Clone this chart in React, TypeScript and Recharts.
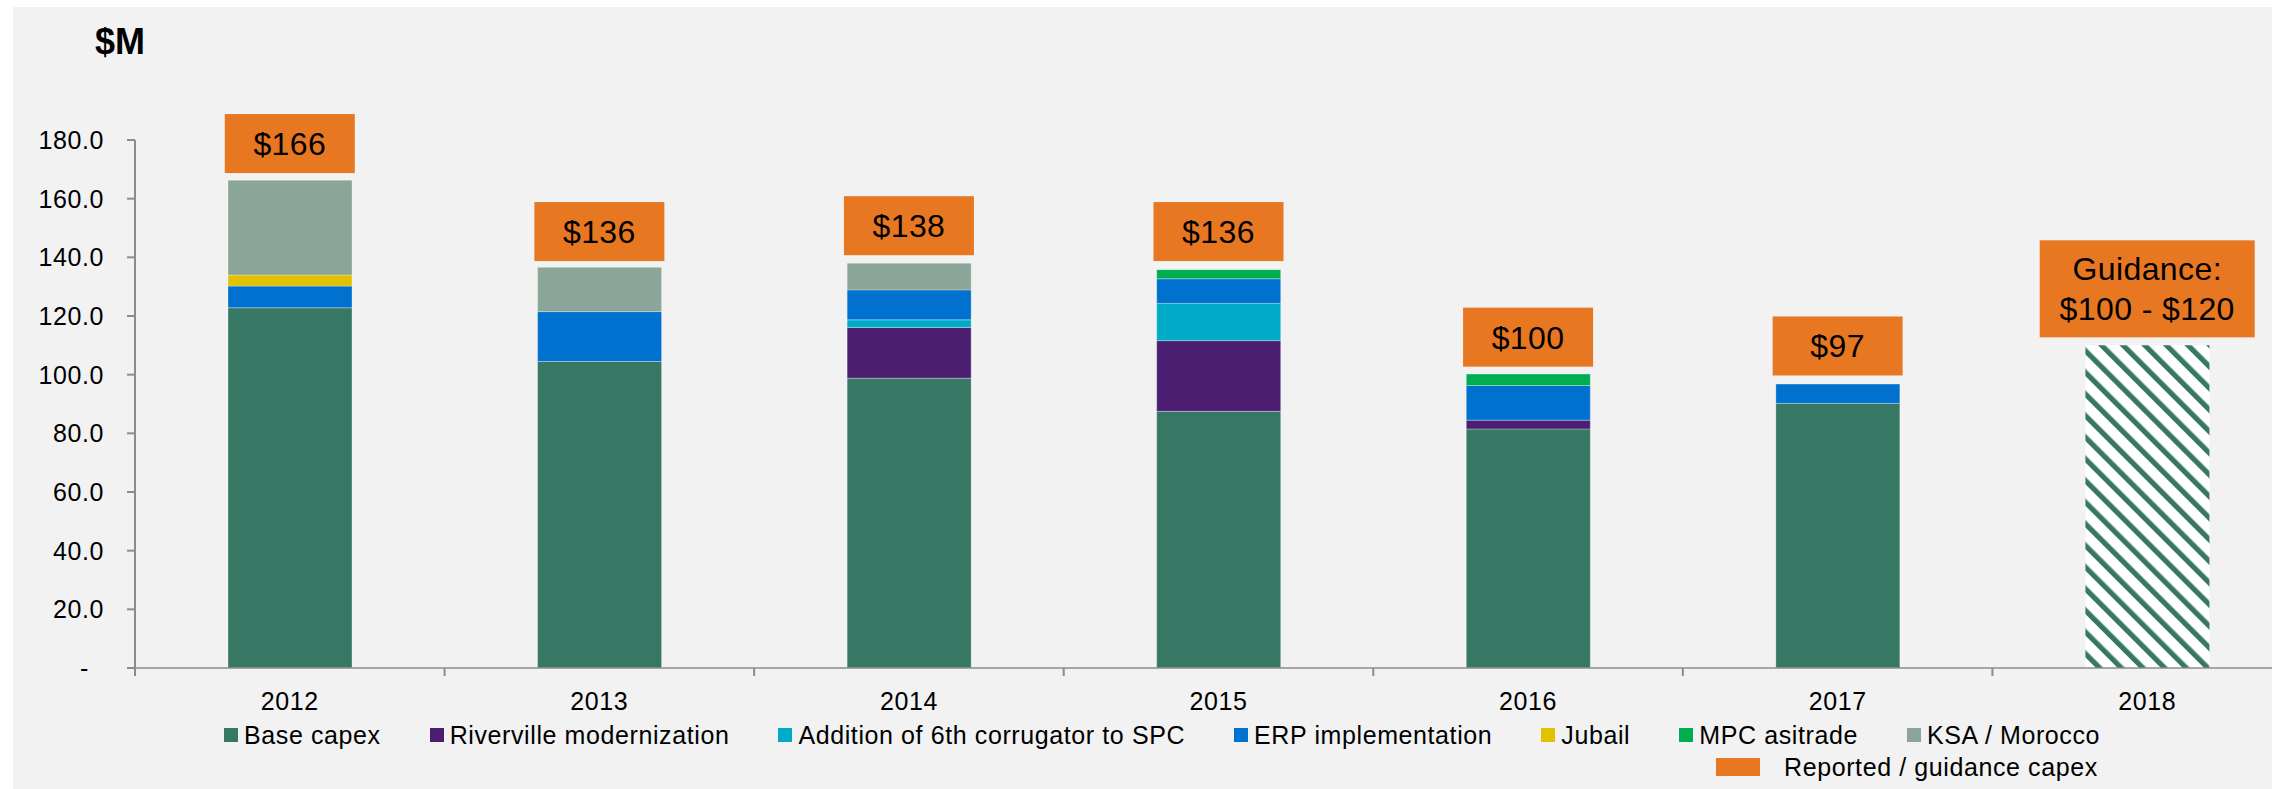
import React from 'react';
import { ComposedChart, Bar, Line, XAxis, YAxis, Legend } from 'recharts';

// ---------- data ----------
const years = ['2012', '2013', '2014', '2015', '2016', '2017', '2018'];
const baseCapex = [122.8, 104.5, 98.8, 87.5, 81.5, 90.2, 0];
const riverville = [0, 0, 17.3, 24.1, 3.0, 0, 0];
const corrugator = [0, 0, 2.6, 12.7, 0, 0, 0];
const erp = [7.4, 17.0, 10.2, 8.4, 11.8, 6.6, 0];
const jubail = [3.8, 0, 0, 0, 0, 0, 0];
const mpc = [0, 0, 0, 3.1, 3.9, 0, 0];
const ksa = [32.3, 15.1, 9.1, 0, 0, 0, 0];
const guidance = [0, 0, 0, 0, 0, 0, 110];
const reportedValues = [166, 136, 138, 136, 100, 97, 110];
const reportedLabels = ['$166', '$136', '$138', '$136', '$100', '$97', 'Guidance:|$100 - $120'];
const yTicks = [0, 20, 40, 60, 80, 100, 120, 140, 160, 180];
const yTickLabels = ['-', '20.0', '40.0', '60.0', '80.0', '100.0', '120.0', '140.0', '160.0', '180.0'];

const series = [
  { key: 'base', name: 'Base capex', color: '#367863', values: baseCapex },
  { key: 'riverville', name: 'Riverville modernization', color: '#4b1e72', values: riverville },
  { key: 'corrugator', name: 'Addition of 6th corrugator to SPC', color: '#00abc7', values: corrugator },
  { key: 'erp', name: 'ERP implementation', color: '#0071ce', values: erp },
  { key: 'jubail', name: 'Jubail', color: '#e2c200', values: jubail },
  { key: 'mpc', name: 'MPC asitrade', color: '#00ae4f', values: mpc },
  { key: 'ksa', name: 'KSA / Morocco', color: '#8ba598', values: ksa },
];

const ORANGE = '#e87722';
const AXIS = '#8c8c8c';
const FONT = "'Liberation Sans', Arial, Helvetica, sans-serif";
const TXT = 25;
const LS = 0.6;

const data = years.map((y, i) => {
  const row: any = { year: y, guidance: guidance[i], total: reportedValues[i] };
  series.forEach((s) => { row[s.key] = s.values[i]; });
  return row;
});

// ---------- layout ----------
const CHART_W = 2320;
const CHART_H = 789;
const MARGIN = { top: 140, right: 18, left: 0, bottom: 0 };
const Y_W = 135;
const BAND = (CHART_W - MARGIN.right - Y_W) / years.length;

const YTick = (props: any) => {
  const { x, y, payload } = props;
  const idx = yTicks.indexOf(payload.value);
  const label = idx >= 0 ? yTickLabels[idx] : String(payload.value);
  return (
    <text x={payload.value === 0 ? x - 15 : x} y={y} dy="0.355em" textAnchor="end"
      fontSize={TXT} fontFamily={FONT} letterSpacing={LS} fill="#000">{label}</text>
  );
};

const XTick = (props: any) => {
  const { x, y, payload } = props;
  return (
    <g>
      <line x1={x - BAND / 2} x2={x - BAND / 2} y1={y} y2={y + 8} stroke={AXIS} strokeWidth={2} />
      <text x={x} y={y + 33} dy="0.355em" textAnchor="middle" fontSize={TXT}
        fontFamily={FONT} letterSpacing={LS} fill="#000">{payload.value}</text>
    </g>
  );
};

const renderBox = (props: any) => {
  const { cx, cy, payload } = props;
  const i = years.indexOf(payload.year);
  const lines = reportedLabels[i].split('|');
  const multi = lines.length > 1;
  const w = multi ? 215 : 130;
  const h = multi ? 97 : 59;
  const bottom = cy - 8;
  const midY = bottom - h / 2;
  return (
    <g key={`box-${i}`}>
      <rect x={cx - w / 2} y={bottom - h} width={w} height={h} fill={ORANGE} />
      {lines.map((t, j) => (
        <text key={j} x={cx} y={midY + (j - (lines.length - 1) / 2) * 40} dy="0.355em"
          textAnchor="middle" fontSize={32} letterSpacing={0.4} fontFamily={FONT} fill="#000">{t}</text>
      ))}
    </g>
  );
};

const LegendContent = () => (
  <div style={{ position: 'relative', width: 2272, height: 80, fontFamily: FONT, fontSize: TXT, letterSpacing: LS, color: '#000' }}>
    <div style={{ position: 'absolute', left: 224, top: 11, height: 30, display: 'flex', alignItems: 'center', whiteSpace: 'nowrap' }}>
      {series.map((s) => (
        <div key={s.key} style={{ display: 'flex', alignItems: 'center', marginRight: 49 }}>
          <span style={{ display: 'inline-block', width: 14, height: 14, background: s.color, marginRight: 6 }} />
          <span>{s.name}</span>
        </div>
      ))}
    </div>
    <div style={{ position: 'absolute', left: 1716, top: 43, height: 30, display: 'flex', alignItems: 'center', whiteSpace: 'nowrap' }}>
      <span style={{ display: 'inline-block', width: 44, height: 18, background: ORANGE, marginRight: 24 }} />
      <span>Reported / guidance capex</span>
    </div>
  </div>
);

export default function App() {
  return (
    <div style={{ position: 'absolute', left: 0, top: 0, width: 2272, height: 789, overflow: 'hidden', background: '#fff' }}>
      <div style={{ position: 'absolute', left: 13, top: 7, right: 0, bottom: 0, background: '#f2f2f2' }} />
      <div style={{ position: 'absolute', left: 95, top: 24, fontFamily: FONT, fontWeight: 'bold', fontSize: 36, lineHeight: '36px', color: '#000' }}>$M</div>
      <div style={{ position: 'absolute', left: 0, top: 0 }}>
        <ComposedChart width={CHART_W} height={CHART_H} data={data} margin={MARGIN} barSize={124}>
          <defs>
            <pattern id="hatch" patternUnits="userSpaceOnUse" width={15.3} height={15.3} patternTransform="rotate(-45)">
              <rect x={0} y={0} width={15.3} height={15.3} fill="#ffffff" />
              <rect x={0} y={0} width={5.2} height={15.3} fill="#367863" />
            </pattern>
          </defs>
          <XAxis dataKey="year" tickLine={false} tickSize={0} tickMargin={0} height={41}
            axisLine={{ stroke: AXIS, strokeWidth: 1.5 }} tick={<XTick />} interval={0} />
          <YAxis width={Y_W} domain={[0, 180]} ticks={yTicks} interval={0} tickSize={8} tickMargin={23}
            axisLine={{ stroke: AXIS, strokeWidth: 2 }} tickLine={{ stroke: AXIS, strokeWidth: 2 }} tick={<YTick />} />
          <Legend content={<LegendContent />} verticalAlign="bottom"
            wrapperStyle={{ position: 'absolute', left: 0, top: 709, width: 2272, height: 80, margin: 0, padding: 0 }} />
          {series.map((s) => (
            <Bar key={s.key} dataKey={s.key} name={s.name} stackId="capex" fill={s.color}
              stroke="rgba(255,255,255,0.3)" strokeWidth={1} isAnimationActive={false} />
          ))}
          <Bar dataKey="guidance" name="Guidance" stackId="capex" fill="url(#hatch)" isAnimationActive={false} />
          <Line dataKey="total" name="Reported / guidance capex" stroke="none" dot={renderBox}
            activeDot={false} isAnimationActive={false} />
        </ComposedChart>
      </div>
    </div>
  );
}
